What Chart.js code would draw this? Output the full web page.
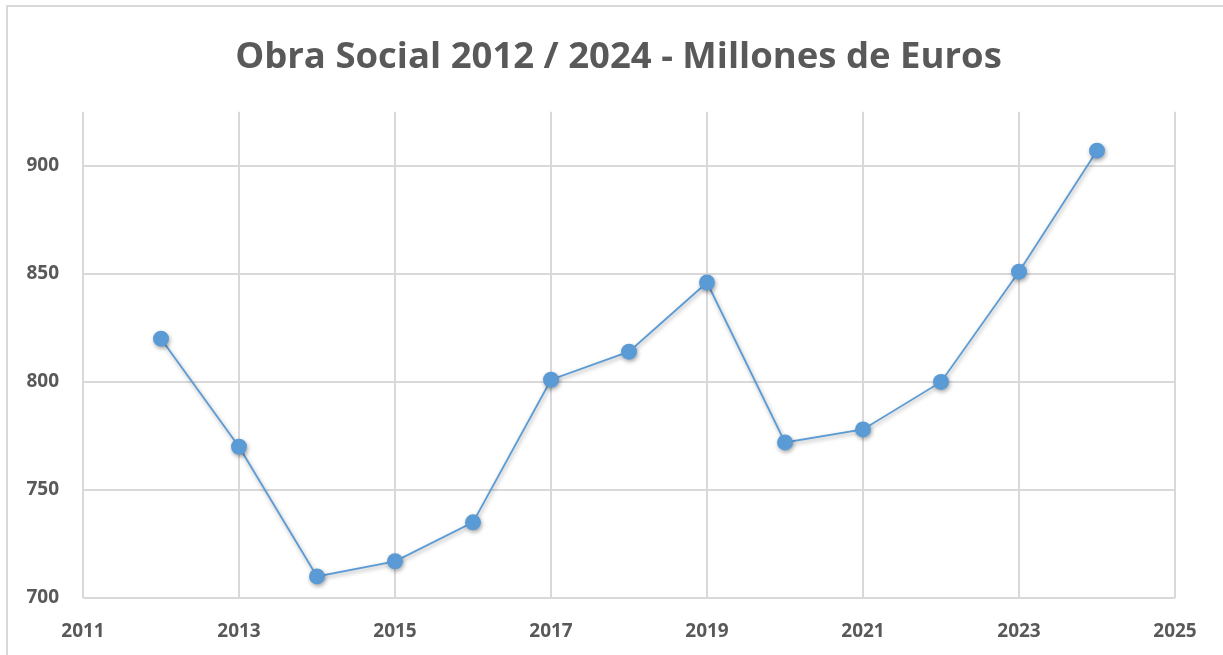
<!DOCTYPE html>
<html>
<head>
<meta charset="utf-8">
<script src="https://cdn.jsdelivr.net/npm/chart.js@4/dist/chart.umd.min.js"></script>
<style>
  html, body { margin: 0; padding: 0; background: #fff; overflow: hidden; }
  #frame {
    position: absolute; left: 6px; top: 5px; width: 1240px; height: 700px;
    border: 2px solid #d9d9d9; box-sizing: border-box;
  }
  #wrap { position: absolute; left: 0; top: 0; width: 1223px; height: 655px; }
</style>
</head>
<body>
<div id="frame"></div>
<div id="wrap"><canvas id="chart"></canvas></div>
<script>
const years = [2012, 2013, 2014, 2015, 2016, 2017, 2018, 2019, 2020, 2021, 2022, 2023, 2024];
const millones = [820, 770, 710, 717, 735, 801, 814, 846, 772, 778, 800, 851, 907];
const yTicks = [700, 750, 800, 850, 900];
const xTicks = [2011, 2013, 2015, 2017, 2019, 2021, 2023, 2025];

const grey = '#595959';
const gridColor = '#d9d9d9';
const blue = '#5b9bd5';

// soft shadow under the markers, like the office chart
const markerShadow = {
  id: 'markerShadow',
  beforeDatasetDraw(chart) {
    const ctx = chart.ctx;
    ctx.save();
    ctx.shadowColor = 'rgba(0,0,0,0.35)';
    ctx.shadowBlur = 4;
    ctx.shadowOffsetX = 1;
    ctx.shadowOffsetY = 2;
  },
  afterDatasetDraw(chart) {
    chart.ctx.restore();
  }
};

// the title is centred on the whole frame, not on the padded area
const centreTitle = {
  id: 'centreTitle',
  afterLayout(chart) {
    const t = chart.titleBlock;
    if (t) { t.left = 14; t.right = chart.width; }
  }
};

new Chart(document.getElementById('chart'), {
  type: 'line',
  data: {
    datasets: [{
      label: 'Obra Social',
      data: years.map((y, i) => ({ x: y, y: millones[i] })),
      borderColor: blue,
      backgroundColor: blue,
      borderWidth: 1.8,
      pointRadius: 8,
      pointBorderWidth: 0,
      pointBackgroundColor: blue,
      tension: 0
    }]
  },
  plugins: [markerShadow, centreTitle],
  options: {
    responsive: true,
    maintainAspectRatio: false,
    animation: false,
    layout: { padding: { left: 25, right: 48, top: 14, bottom: 0 } },
    plugins: {
      legend: { display: false },
      tooltip: { enabled: false },
      title: {
        display: true,
        text: 'Obra Social 2012 / 2024 - Millones de Euros',
        color: grey,
        font: { family: 'Open Sans', size: 36.5, weight: 'bold' },
        padding: { top: 22, bottom: 32 }
      }
    },
    scales: {
      x: {
        type: 'linear',
        min: 2011,
        max: 2025,
        afterBuildTicks: s => { s.ticks = xTicks.map(v => ({ value: v })); },
        afterFit: s => { s.height = 57; },
        ticks: {
          color: grey,
          font: { family: 'Open Sans', size: 19, weight: 'bold' },
          padding: 22,
          maxRotation: 0,
          callback: v => String(v)
        },
        grid: { color: gridColor, lineWidth: 2, drawTicks: false },
        border: { display: false }
      },
      y: {
        min: 700,
        max: 925,
        afterBuildTicks: s => { s.ticks = yTicks.map(v => ({ value: v })); },
        afterFit: s => { s.width = 58; },
        ticks: {
          color: grey,
          font: { family: 'Open Sans', size: 19, weight: 'bold' },
          padding: 24
        },
        grid: { color: gridColor, lineWidth: 2, drawTicks: false },
        border: { display: false }
      }
    }
  }
});
</script>
</body>
</html>
